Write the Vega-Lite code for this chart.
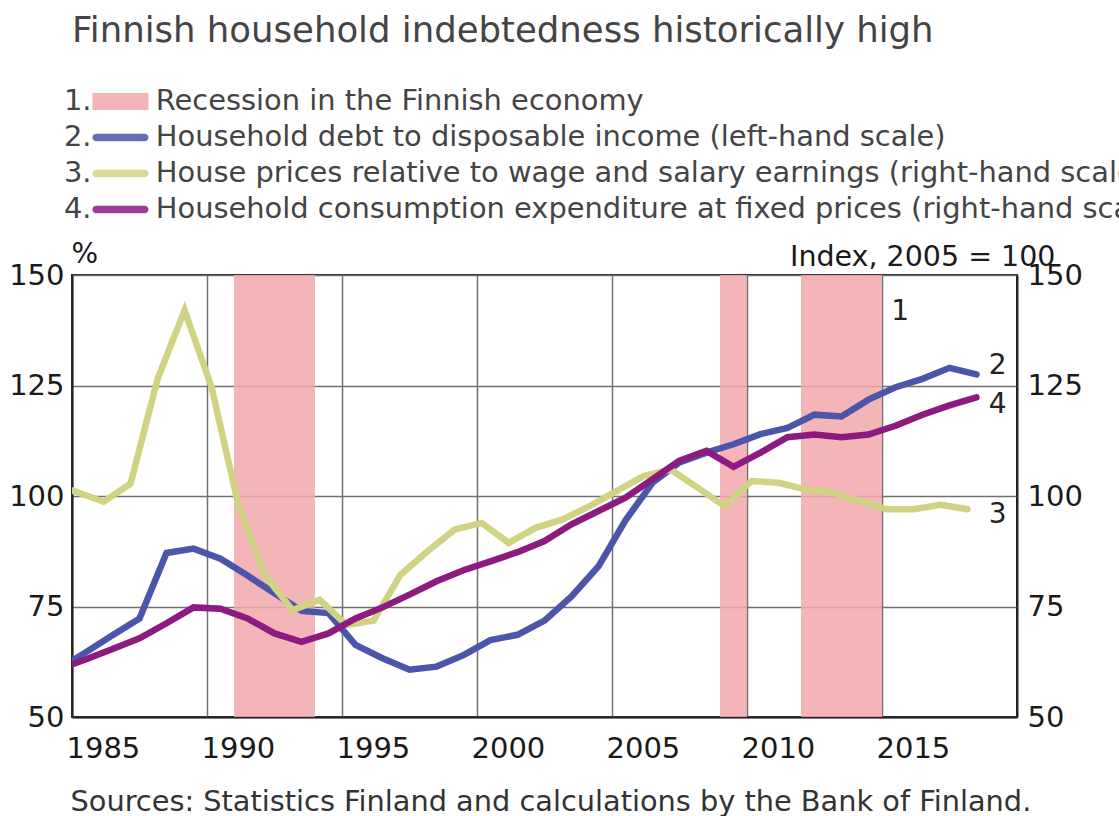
{
  "$schema": "https://vega.github.io/schema/vega-lite/v6.json",
  "width": 945,
  "height": 442,
  "autosize": "none",
  "padding": {"left": 72, "top": 275, "right": 102, "bottom": 99},
  "background": "white",
  "title": {
    "text": "Finnish household indebtedness historically high",
    "anchor": "start",
    "frame": "group",
    "fontSize": 35.5,
    "font": "DejaVu Sans",
    "fontWeight": "normal",
    "color": "#444444",
    "baseline": "alphabetic",
    "offset": 10
  },
  "datasets": {
    "recessions": [
      {"series": "Recession", "start": 1991, "end": 1994},
      {"series": "Recession", "start": 2009, "end": 2010},
      {"series": "Recession", "start": 2012, "end": 2015}
    ],
    "debt": [
      {"t": 1984.5, "v": 60.8}, {"t": 1985.5, "v": 64.6}, {"t": 1986.5, "v": 68.5}, {"t": 1987.5, "v": 72.3},
      {"t": 1988.5, "v": 87.1}, {"t": 1989.5, "v": 88.1}, {"t": 1990.5, "v": 85.8}, {"t": 1991.5, "v": 82.0},
      {"t": 1992.5, "v": 78.0}, {"t": 1993.5, "v": 74.0}, {"t": 1994.5, "v": 73.5}, {"t": 1995.5, "v": 66.3},
      {"t": 1996.5, "v": 63.3}, {"t": 1997.5, "v": 60.7}, {"t": 1998.5, "v": 61.4}, {"t": 1999.5, "v": 64.0},
      {"t": 2000.5, "v": 67.4}, {"t": 2001.5, "v": 68.6}, {"t": 2002.5, "v": 71.8}, {"t": 2003.5, "v": 77.3},
      {"t": 2004.5, "v": 84.1}, {"t": 2005.5, "v": 94.5}, {"t": 2006.5, "v": 103.0}, {"t": 2007.5, "v": 107.6},
      {"t": 2008.5, "v": 109.8}, {"t": 2009.5, "v": 111.7}, {"t": 2010.5, "v": 114.0}, {"t": 2011.5, "v": 115.4},
      {"t": 2012.5, "v": 118.4}, {"t": 2013.5, "v": 118.0}, {"t": 2014.5, "v": 121.8}, {"t": 2015.5, "v": 124.6},
      {"t": 2016.5, "v": 126.5}, {"t": 2017.5, "v": 129.0}, {"t": 2018.5, "v": 127.5}
    ],
    "house": [
      {"t": 1984.17, "v": 103.0}, {"t": 1985.17, "v": 100.9}, {"t": 1986.17, "v": 98.7}, {"t": 1987.17, "v": 102.8},
      {"t": 1988.17, "v": 126.5}, {"t": 1989.17, "v": 142.0}, {"t": 1990.17, "v": 124.6}, {"t": 1991.17, "v": 97.7},
      {"t": 1992.17, "v": 81.8}, {"t": 1993.17, "v": 74.2}, {"t": 1994.17, "v": 76.5}, {"t": 1995.17, "v": 70.8},
      {"t": 1996.17, "v": 71.8}, {"t": 1997.17, "v": 82.2}, {"t": 1998.17, "v": 87.5}, {"t": 1999.17, "v": 92.4},
      {"t": 2000.17, "v": 93.9}, {"t": 2001.17, "v": 89.4}, {"t": 2002.17, "v": 92.8}, {"t": 2003.17, "v": 94.7},
      {"t": 2004.17, "v": 97.7}, {"t": 2005.17, "v": 101.1}, {"t": 2006.17, "v": 104.5}, {"t": 2007.17, "v": 106.0},
      {"t": 2008.17, "v": 101.9}, {"t": 2009.17, "v": 97.7}, {"t": 2010.17, "v": 103.4}, {"t": 2011.17, "v": 103.0},
      {"t": 2012.17, "v": 101.5}, {"t": 2013.17, "v": 100.8}, {"t": 2014.17, "v": 98.9}, {"t": 2015.17, "v": 97.0},
      {"t": 2016.17, "v": 97.0}, {"t": 2017.17, "v": 98.0}, {"t": 2018.17, "v": 97.0}
    ],
    "consumption": [
      {"t": 1984.5, "v": 60.8}, {"t": 1985.5, "v": 63.0}, {"t": 1986.5, "v": 65.4}, {"t": 1987.5, "v": 67.8},
      {"t": 1988.5, "v": 71.2}, {"t": 1989.5, "v": 74.8}, {"t": 1990.5, "v": 74.5}, {"t": 1991.5, "v": 72.3},
      {"t": 1992.5, "v": 68.9}, {"t": 1993.5, "v": 67.0}, {"t": 1994.5, "v": 68.9}, {"t": 1995.5, "v": 72.3},
      {"t": 1996.5, "v": 74.8}, {"t": 1997.5, "v": 77.7}, {"t": 1998.5, "v": 80.7}, {"t": 1999.5, "v": 83.2},
      {"t": 2000.5, "v": 85.2}, {"t": 2001.5, "v": 87.3}, {"t": 2002.5, "v": 89.8}, {"t": 2003.5, "v": 93.6},
      {"t": 2004.5, "v": 96.6}, {"t": 2005.5, "v": 99.6}, {"t": 2006.5, "v": 103.8}, {"t": 2007.5, "v": 108.0},
      {"t": 2008.5, "v": 110.2}, {"t": 2009.5, "v": 106.6}, {"t": 2010.5, "v": 109.8}, {"t": 2011.5, "v": 113.3},
      {"t": 2012.5, "v": 113.9}, {"t": 2013.5, "v": 113.3}, {"t": 2014.5, "v": 113.9}, {"t": 2015.5, "v": 115.9},
      {"t": 2016.5, "v": 118.4}, {"t": 2017.5, "v": 120.5}, {"t": 2018.5, "v": 122.3}
    ],
    "labels": [
      {"label": "1", "t": 2015.67, "v": 141.6},
      {"label": "2", "t": 2019.28, "v": 129.4},
      {"label": "4", "t": 2019.28, "v": 120.5},
      {"label": "3", "t": 2019.28, "v": 95.7}
    ]
  },
  "layer": [
    {
      "layer": [
        {
          "data": {"name": "recessions"},
          "mark": {"type": "rect", "opacity": 0.85},
          "encoding": {
            "x": {
              "field": "start", "type": "quantitative",
              "title": "Sources: Statistics Finland and calculations by the Bank of Finland.",
              "scale": {"domain": [1985, 2020], "nice": false, "zero": false},
              "axis": {
                "values": [1985, 1990, 1995, 2000, 2005, 2010, 2015],
                "format": "d",
                "grid": true,
                "labelAlign": "left",
                "labelBaseline": "top",
                "labelOffset": -6,
                "labelPadding": 17,
                "titleAlign": "left",
                "titleAnchor": "start",
                "titleBaseline": "alphabetic",
                "titleX": -2,
                "titleY": 93,
                "titleFontSize": 28.8,
                "titleColor": "#333333"
              }
            },
            "x2": {"field": "end"},
            "color": {
              "field": "series", "type": "nominal",
              "scale": {"domain": ["Recession", "Debt", "House prices", "Consumption"], "range": ["#f2a8ac", "#4b55a9", "#cfd383", "#8c1a7f"]},
              "legend": {
                "title": null,
                "symbolType": {"expr": "datum.value === 'Recession' ? 'M4.3,-0.85H9.9V0.85H4.3Z' : 'M4.68,-0.38H9.52A0.38,0.38 0 0 1 9.52,0.38H4.68A0.38,0.38 0 0 1 4.68,-0.38Z'"},
                "symbolStrokeWidth": 0,
                "labelExpr": "datum.value === 'Recession' ? '1.\u00a0\u00a0\u00a0\u00a0\u00a0\u00a0\u00a0Recession in the Finnish economy' : datum.value === 'Debt' ? '2.\u00a0\u00a0\u00a0\u00a0\u00a0\u00a0\u00a0Household debt to disposable income (left-hand scale)' : datum.value === 'House prices' ? '3.\u00a0\u00a0\u00a0\u00a0\u00a0\u00a0\u00a0House prices relative to wage and salary earnings (right-hand scale)' : '4.\u00a0\u00a0\u00a0\u00a0\u00a0\u00a0\u00a0Household consumption expenditure at fixed prices (right-hand scale)'"
              }
            }
          }
        },
        {
          "data": {"name": "debt"},
          "mark": {"type": "line", "strokeWidth": 6.5, "strokeCap": "round", "clip": true},
          "encoding": {
            "x": {"field": "t", "type": "quantitative", "title": "Sources: Statistics Finland and calculations by the Bank of Finland."},
            "y": {
              "field": "v", "type": "quantitative", "title": "%",
              "scale": {"domain": [50, 150], "nice": false, "zero": false},
              "axis": {
                "values": [50, 75, 100, 125, 150],
                "grid": true,
                "labelPadding": 8,
                "titleAngle": 0,
                "titleAlign": "left",
                "titleBaseline": "alphabetic",
                "titleX": -1,
                "titleY": -13,
                "titleFontSize": 28
              }
            },
            "color": {
              "datum": "Debt",
              "scale": {"domain": ["Recession", "Debt", "House prices", "Consumption"], "range": ["#f2a8ac", "#4b55a9", "#cfd383", "#8c1a7f"]},
              "legend": null
            }
          }
        }
      ]
    },
    {
      "layer": [
        {
          "data": {"name": "house"},
          "mark": {"type": "line", "strokeWidth": 6.5, "strokeCap": "round", "clip": true},
          "encoding": {
            "x": {"field": "t", "type": "quantitative", "title": "Sources: Statistics Finland and calculations by the Bank of Finland."},
            "y": {
              "field": "v", "type": "quantitative", "title": "Index, 2005 = 100",
              "scale": {"domain": [50, 150], "nice": false, "zero": false},
              "axis": {
                "orient": "right",
                "values": [50, 75, 100, 125, 150],
                "grid": false,
                "labelPadding": 10,
                "titleAngle": 0,
                "titleAlign": "right",
                "titleBaseline": "alphabetic",
                "titleX": 38,
                "titleY": -10,
                "titleFontSize": 28.5
              }
            },
            "color": {
              "datum": "House prices",
              "scale": {"domain": ["Recession", "Debt", "House prices", "Consumption"], "range": ["#f2a8ac", "#4b55a9", "#cfd383", "#8c1a7f"]},
              "legend": null
            }
          }
        },
        {
          "data": {"name": "consumption"},
          "mark": {"type": "line", "strokeWidth": 6.5, "strokeCap": "round", "clip": true},
          "encoding": {
            "x": {"field": "t", "type": "quantitative", "title": "Sources: Statistics Finland and calculations by the Bank of Finland."},
            "y": {"field": "v", "type": "quantitative", "title": "Index, 2005 = 100", "scale": {"domain": [50, 150], "nice": false, "zero": false}},
            "color": {
              "datum": "Consumption",
              "scale": {"domain": ["Recession", "Debt", "House prices", "Consumption"], "range": ["#f2a8ac", "#4b55a9", "#cfd383", "#8c1a7f"]},
              "legend": null
            }
          }
        },
        {
          "data": {"name": "labels"},
          "mark": {"type": "text", "fontSize": 28, "font": "DejaVu Sans", "color": "#222222", "align": "center", "baseline": "middle"},
          "encoding": {
            "x": {"field": "t", "type": "quantitative", "title": "Sources: Statistics Finland and calculations by the Bank of Finland."},
            "y": {"field": "v", "type": "quantitative", "title": "Index, 2005 = 100", "scale": {"domain": [50, 150], "nice": false, "zero": false}},
            "text": {"field": "label"}
          }
        }
      ]
    }
  ],
  "resolve": {"scale": {"y": "independent"}},
  "config": {
    "font": "DejaVu Sans",
    "view": {"stroke": "#222222", "strokeWidth": 2},
    "axis": {
      "labelFont": "DejaVu Sans",
      "titleFont": "DejaVu Sans",
      "labelFontSize": 29,
      "titleFontSize": 28,
      "labelColor": "#1a1a1a",
      "titleColor": "#1a1a1a",
      "titleFontWeight": "normal",
      "domainColor": "#222222",
      "domainWidth": 2,
      "gridColor": "#707070",
      "gridWidth": 1.5,
      "gridOpacity": 1,
      "ticks": false,
      "labelFlush": false,
      "labelOverlap": false
    },
    "legend": {
      "orient": "none",
      "legendX": -37,
      "legendY": -188,
      "direction": "vertical",
      "padding": 0,
      "labelFont": "DejaVu Sans",
      "labelFontSize": 28.9,
      "labelColor": "#444444",
      "labelLimit": 3000,
      "labelOffset": 0,
      "rowPadding": 6,
      "symbolSize": 400,
      "symbolOffset": 0
    }
  }
}
